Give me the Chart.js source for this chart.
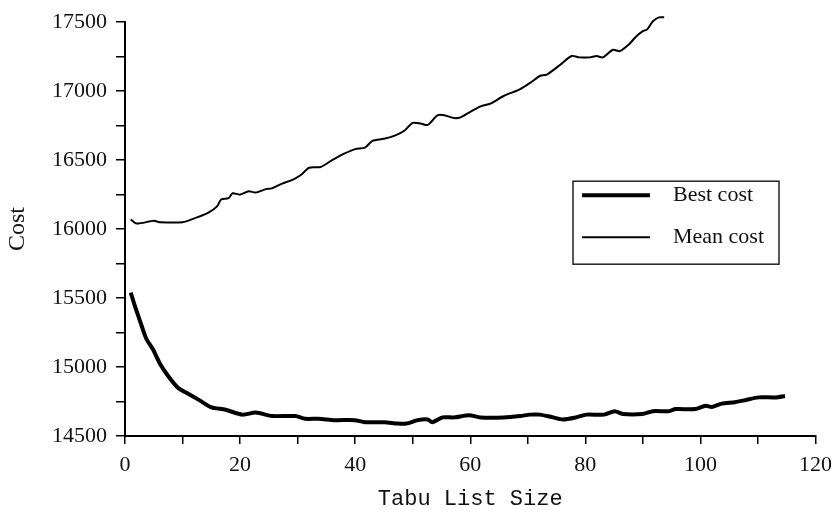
<!DOCTYPE html>
<html>
<head>
<meta charset="utf-8">
<title>Tabu List Size vs Cost</title>
<script src="https://cdn.jsdelivr.net/npm/chart.js@4/dist/chart.umd.min.js"></script>
<style>
    html, body { margin: 0; padding: 0; background: #fff; }
    #costChart { display: block; }
</style>
</head>
<body>
<canvas id="costChart" width="840" height="510"></canvas>
<script>
"use strict";

// values
const meanX = [1, 2, 5, 6, 10, 12.5, 14.5, 16, 16.7, 18, 18.7, 20, 21.5, 22.7, 24.5, 25.5, 27.3, 29, 30.5, 32,
    34, 36, 38, 40, 41.7, 43, 45, 47, 48.6, 50, 51.4, 52.6, 54.3, 55.5, 57.2, 58.3, 60, 61.8, 63.5, 65.8,
    68.7, 70.4, 72.1, 73.3, 75.6, 77.6, 79, 80.7, 82, 83, 84.8, 86, 87.6, 88.8, 90, 90.8, 91.7, 92.8, 93.7];
const meanCost = [16070, 16040, 16060, 16050, 16050, 16085, 16120, 16165, 16215, 16225, 16260, 16250, 16275, 16265, 16290, 16295, 16330, 16355, 16390, 16445,
    16450, 16500, 16545, 16580, 16590, 16640, 16655, 16680, 16715, 16770, 16765, 16755, 16825, 16825, 16805, 16810, 16850, 16890, 16910, 16965,
    17015, 17060, 17110, 17120, 17190, 17255, 17245, 17245, 17255, 17245, 17300, 17290, 17340, 17395, 17435, 17450, 17505, 17535, 17535];

const bestX = [1, 1.7, 2.6, 3.7, 4.9, 6, 7.5, 9.2, 10.6, 12.9, 14.9, 17.5, 20.4, 22.7, 25.6, 29.6, 31.3, 33.6, 36.5, 39.9,
    41.7, 45.1, 47.4, 48.9, 50.9, 52.6, 53.4, 55.2, 57.2, 59.8, 61.8, 65.8, 68.7, 70.4, 72.1, 74.4, 76.1, 78.4, 80.2, 83.3,
    85.1, 86.5, 89.9, 91.7, 94.5, 95.7, 99.1, 100.9, 102, 103.7, 106, 107.8, 110.1, 113, 114.7];
const bestCost = [15540, 15445, 15335, 15205, 15125, 15030, 14935, 14850, 14815, 14760, 14710, 14690, 14655, 14670, 14645, 14645, 14625, 14625, 14615, 14615,
    14600, 14600, 14590, 14590, 14615, 14620, 14600, 14635, 14635, 14650, 14635, 14635, 14645, 14655, 14655, 14635, 14620, 14635, 14655, 14655,
    14680, 14660, 14660, 14680, 14680, 14695, 14695, 14720, 14710, 14735, 14745, 14760, 14780, 14780, 14790];

const xTickLabels = [0, 20, 40, 60, 80, 100, 120];
const yTickLabels = [14500, 15000, 15500, 16000, 16500, 17000, 17500];
const seriesNames = ["Best cost", "Mean cost"];

const toPoints = (xs, ys) => xs.map((x, i) => ({ x: x, y: ys[i] }));

const serif = "'Liberation Serif', 'Times New Roman', serif";
const mono = "'Liberation Mono', 'Courier New', monospace";

// legend box drawn inside the plot, like the original
const boxLegend = {
    id: "boxLegend",
    afterDraw: (chart) => {
        const ctx = chart.ctx;
        const area = chart.chartArea;
        const left = area.left + 448;
        const top = area.top + 159;
        ctx.save();
        ctx.strokeStyle = "#222";
        ctx.lineWidth = 1.5;
        ctx.strokeRect(left, top, 206, 83);
        ctx.font = "22px " + serif;
        ctx.fillStyle = "#111";
        ctx.textBaseline = "middle";
        chart.data.datasets.forEach((ds, i) => {
            const y = top + 14 + i * 42;
            ctx.beginPath();
            ctx.lineWidth = ds.borderWidth;
            ctx.strokeStyle = "#000";
            ctx.moveTo(left + 9, y);
            ctx.lineTo(left + 77, y);
            ctx.stroke();
            ctx.fillText(seriesNames[i], left + 100, y);
        });
        ctx.restore();
    }
};

const renderChart = () => {
    const ctx = document.getElementById("costChart");

    new Chart(ctx, {
        type: "line",
        data: {
            datasets: [{
                label: seriesNames[0],
                data: toPoints(bestX, bestCost),
                borderColor: "#000",
                borderWidth: 4,
                pointRadius: 0,
                tension: 0.25,
                clip: false
            }, {
                label: seriesNames[1],
                data: toPoints(meanX, meanCost),
                borderColor: "#000",
                borderWidth: 2,
                pointRadius: 0,
                tension: 0.25,
                clip: false
            }]
        },
        options: {
            responsive: false,
            animation: false,
            devicePixelRatio: 1,
            layout: {
                padding: { top: 15, right: 19, left: 0, bottom: 0 }
            },
            plugins: {
                legend: { display: false },
                tooltip: { enabled: false }
            },
            scales: {
                x: {
                    type: "linear",
                    min: 0,
                    max: 120,
                    afterFit: (scale) => { scale.height = 74; },
                    ticks: {
                        stepSize: 10,
                        autoSkip: false,
                        maxRotation: 0,
                        padding: 8,
                        color: "#111",
                        font: { family: serif, size: 22 },
                        callback: (v) => xTickLabels.includes(v) ? String(v) : ""
                    },
                    grid: { drawOnChartArea: false, drawTicks: true, tickLength: 8, color: "#000", lineWidth: 1.5 },
                    border: { display: true, color: "#000", width: 2 },
                    title: {
                        display: true,
                        text: "Tabu List Size",
                        color: "#111",
                        font: { family: mono, size: 22, lineHeight: 1 },
                        padding: { top: 0, bottom: 0 }
                    }
                },
                y: {
                    min: 14500,
                    max: 17500,
                    afterFit: (scale) => { scale.width = 125; },
                    ticks: {
                        stepSize: 250,
                        autoSkip: false,
                        padding: 9,
                        color: "#111",
                        font: { family: serif, size: 22 },
                        callback: (v) => yTickLabels.includes(v) ? String(v) : ""
                    },
                    grid: { drawOnChartArea: false, drawTicks: true, tickLength: 9, color: "#000", lineWidth: 1.5 },
                    border: { display: true, color: "#000", width: 2 },
                    title: {
                        display: true,
                        text: "Cost",
                        color: "#111",
                        font: { family: serif, size: 24, lineHeight: 1 },
                        padding: { top: 6, bottom: 0 }
                    }
                }
            }
        },
        plugins: [boxLegend]
    });
};

document.addEventListener("DOMContentLoaded", () => {
    renderChart();
});
</script>
</body>
</html>
